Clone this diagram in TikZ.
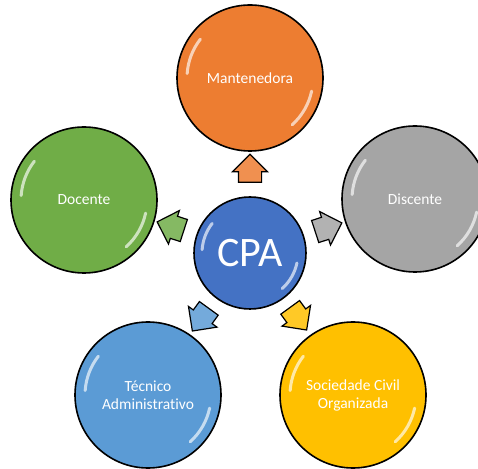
\documentclass[tikz,border=0pt]{standalone}
\usepackage{fontspec}
\setmainfont{Carlito}[Ligatures=NoCommon]
\usetikzlibrary{shapes.arrows}

\definecolor{cpablue}{HTML}{4472C4}
\definecolor{mantorange}{HTML}{ED7D31}
\definecolor{discgray}{HTML}{A5A5A5}
\definecolor{socyellow}{HTML}{FFC000}
\definecolor{tecblue}{HTML}{5B9BD5}
\definecolor{docgreen}{HTML}{70AD47}

\begin{document}
\begin{tikzpicture}[x=1pt,y=1pt,
  gloss/.style={path picture={
      \foreach \a/\b in {142/176,-48/-12}
        \draw[white,opacity=.65,line width=3pt,line cap=round]
          ([shift={(\a:#1)}]path picture bounding box.center)
          arc[start angle=\a,end angle=\b,radius=#1];}},
  main node/.style={circle,draw=black,line width=1.6pt,minimum size=146pt,inner sep=0pt,
    text=white,align=center,font=\fontsize{15.5}{18}\selectfont,gloss=63pt},
  cpa node/.style={main node,minimum size=112pt,font=\fontsize{42}{42}\selectfont,gloss=48pt},
  link node/.style={single arrow,draw=black,line width=1.2pt,minimum height=28pt,
    minimum width=34pt,single arrow head extend=6pt,inner xsep=0pt,inner ysep=11pt}]

  \useasboundingbox (0,0) rectangle (478,468);

  % arrows round the centre
  \node[link node,fill=mantorange!85!white,rotate=90]  (a1) at (250,294) {};
  \node[link node,fill=discgray!85!white,rotate=18]    (a2) at (323,239) {};
  \node[link node,fill=socyellow!85!white,rotate=-54]  (a3) at (295,154) {};
  \node[link node,fill=tecblue!85!white,rotate=-126]   (a4) at (204,153) {};
  \node[link node,fill=docgreen!85!white,rotate=162]   (a5) at (176,240) {};

  % circles
  \node[cpa node,fill=cpablue]     (cpa) at (250,215) {CPA};
  \node[main node,fill=mantorange] (man) at (250,390) {Mantenedora};
  \node[main node,fill=discgray]   (dis) at (415,269) {Discente};
  \node[main node,fill=socyellow]  (soc) at (353,73)  {Sociedade Civil\\Organizada};
  \node[main node,fill=tecblue]    (tec) at (148,73)  {Técnico\\Administrativo};
  \node[main node,fill=docgreen]   (doc) at (84,268)  {Docente};
\end{tikzpicture}
\end{document}
